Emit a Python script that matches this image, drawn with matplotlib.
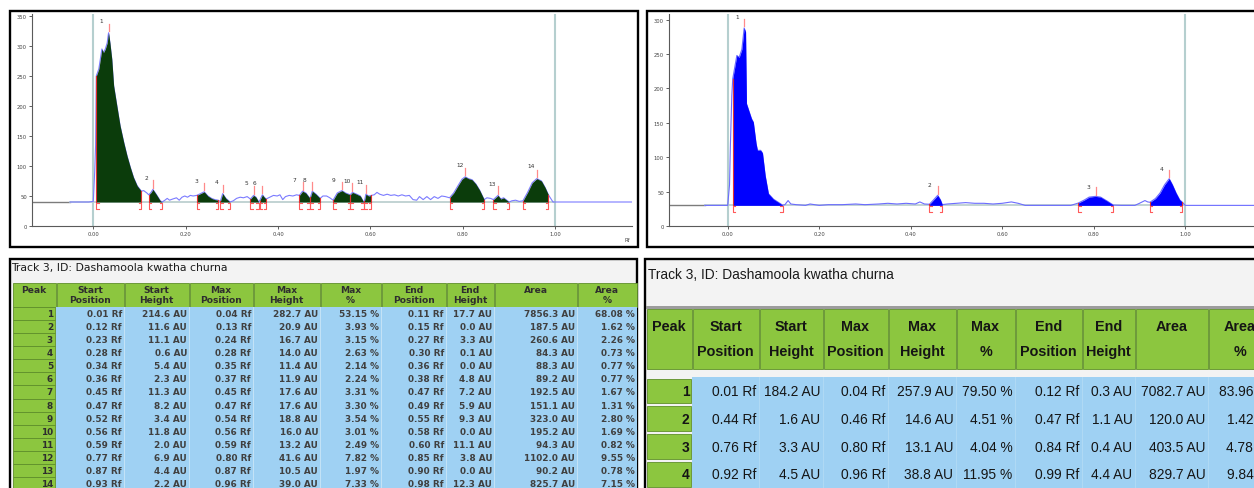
import numpy as np
import matplotlib
matplotlib.use("Agg")
import matplotlib.pyplot as plt
from matplotlib.patches import Rectangle

W, H = 1254, 489

# ---------------- data: densitogram A (green, 14 peaks) ----------------
rf_a = [-0.050, -0.010, 0.000, 0.003, 0.005, 0.0065, 0.012, 0.0186, 0.022, 0.026, 0.030, 0.033, 0.036,
        0.040, 0.044, 0.051, 0.058, 0.066, 0.073, 0.080, 0.087, 0.095, 0.104, 0.109, 0.116, 0.120, 0.125,
        0.129, 0.136, 0.145, 0.149, 0.155, 0.160, 0.165, 0.172, 0.180, 0.186, 0.192, 0.198, 0.204, 0.210,
        0.216, 0.224, 0.232, 0.240, 0.248, 0.256, 0.263, 0.270, 0.275, 0.280, 0.287, 0.296, 0.303, 0.310,
        0.318, 0.325, 0.333, 0.340, 0.347, 0.352, 0.358, 0.360, 0.366, 0.370, 0.374, 0.382, 0.390, 0.398,
        0.404, 0.410, 0.416, 0.424, 0.432, 0.440, 0.446, 0.453, 0.460, 0.468, 0.470, 0.474, 0.482, 0.491,
        0.497, 0.505, 0.512, 0.519, 0.528, 0.538, 0.546, 0.556, 0.561, 0.570, 0.578, 0.585, 0.587, 0.590,
        0.596, 0.602, 0.608, 0.614, 0.620, 0.628, 0.636, 0.644, 0.652, 0.660, 0.668, 0.676, 0.684, 0.692,
        0.700, 0.706, 0.714, 0.722, 0.730, 0.738, 0.746, 0.754, 0.762, 0.771, 0.780, 0.790, 0.798, 0.805,
        0.812, 0.820, 0.828, 0.836, 0.846, 0.852, 0.860, 0.866, 0.876, 0.882, 0.888, 0.900, 0.906, 0.914,
        0.922, 0.930, 0.940, 0.950, 0.960, 0.970, 0.978, 0.985, 0.990, 0.995, 1.166]
au_a = [40, 40, 41, 90, 134, 250, 262, 295, 289, 295, 305, 322, 305,
        278, 234, 200, 167, 139, 117, 98, 81, 67, 58, 59, 55, 52, 56,
        61, 53, 42, 40, 43, 46, 43, 45, 47, 43, 48, 50, 48, 51,
        50, 51, 54, 57, 50, 46, 44, 43, 41, 54, 46, 40, 42, 46,
        48, 47, 49, 45, 51, 48, 40, 42, 52, 48, 45, 48, 51, 50,
        52, 44, 49, 51, 50, 52, 51, 58, 55, 47, 48, 58, 53, 46,
        50, 50, 47, 43, 55, 59, 55, 52, 56, 53, 50, 40, 42, 53,
        50, 51, 52, 56, 53, 51, 53, 51, 52, 50, 52, 50, 51, 44,
        43, 49, 44, 49, 44, 49, 46, 50, 49, 47, 55, 68, 78, 82,
        79, 77, 70, 60, 44, 47, 46, 44, 51, 45, 47, 40, 42, 43,
        41, 42, 56, 72, 79, 75, 64, 52, 46, 40, 40]
base_a = 40
start_a = [0.0065, 0.120, 0.224, 0.275, 0.340, 0.360, 0.446, 0.470, 0.519, 0.556, 0.587, 0.771, 0.866, 0.930]
max_a = [0.033, 0.129, 0.240, 0.280, 0.347, 0.366, 0.453, 0.474, 0.538, 0.561, 0.590, 0.805, 0.876, 0.960]
end_a = [0.104, 0.149, 0.270, 0.296, 0.358, 0.374, 0.468, 0.491, 0.556, 0.585, 0.602, 0.846, 0.900, 0.985]
lab_rf_a = [0.017, 0.114, 0.224, 0.266, 0.331, 0.349, 0.436, 0.457, 0.520, 0.549, 0.578, 0.793, 0.863, 0.947]
lab_au_a = [343, 80, 76, 75, 73, 73, 78, 78, 78, 76, 74, 102, 71, 100]

# ---------------- data: densitogram B (blue, 4 peaks) ----------------
rf_b = [-0.050, 0.000, 0.004, 0.006, 0.009, 0.011, 0.016, 0.020, 0.025, 0.028, 0.031, 0.036, 0.039, 0.041,
        0.052, 0.056, 0.062, 0.065, 0.072, 0.076, 0.082, 0.089, 0.100, 0.114, 0.120, 0.125, 0.132, 0.138,
        0.150, 0.170, 0.180, 0.190, 0.200, 0.220, 0.250, 0.280, 0.300, 0.330, 0.350, 0.370, 0.390, 0.410,
        0.420, 0.430, 0.441, 0.450, 0.459, 0.465, 0.469, 0.480, 0.500, 0.520, 0.540, 0.560, 0.580, 0.600,
        0.620, 0.635, 0.650, 0.700, 0.750, 0.766, 0.780, 0.790, 0.804, 0.815, 0.830, 0.843, 0.860, 0.890,
        0.900, 0.912, 0.918, 0.923, 0.935, 0.945, 0.955, 0.965, 0.972, 0.980, 0.988, 0.994, 1.000, 1.183]
au_b = [30, 30, 60, 120, 190, 214, 233, 248, 245, 251, 257, 288, 282, 178,
        156, 151, 120, 110, 110, 106, 73, 47, 39, 33, 30.3, 31, 37, 32,
        31, 30, 32, 31, 30, 31, 31, 32, 31, 32, 33, 32, 33, 32,
        35, 32, 31.6, 38, 44.6, 38, 31.1, 32, 33, 34, 33, 33, 32, 33,
        35, 33, 30, 30, 30, 33.3, 38, 42, 43.1, 42, 36, 30.4, 30, 30,
        33, 37, 35, 34.5, 40, 48, 60, 68.8, 60, 48, 38, 34.4, 30, 30]
base_b = 30
start_b = [0.011, 0.441, 0.766, 0.923]
max_b = [0.036, 0.459, 0.804, 0.965]
end_b = [0.120, 0.469, 0.843, 0.994]
lab_rf_b = [0.020, 0.442, 0.788, 0.949]
lab_au_b = [305, 61, 58, 84]

# ---------------- table data ----------------
title_text = "Track 3, ID: Dashamoola kwatha churna"
headers = ["Peak", "Start\nPosition", "Start\nHeight", "Max\nPosition", "Max\nHeight", "Max\n%",
           "End\nPosition", "End\nHeight", "Area", "Area\n%"]

t1_peak = list(range(1, 15))
t1_start_pos = [0.01, 0.12, 0.23, 0.28, 0.34, 0.36, 0.45, 0.47, 0.52, 0.56, 0.59, 0.77, 0.87, 0.93]
t1_start_h = [214.6, 11.6, 11.1, 0.6, 5.4, 2.3, 11.3, 8.2, 3.4, 11.8, 2.0, 6.9, 4.4, 2.2]
t1_max_pos = [0.04, 0.13, 0.24, 0.28, 0.35, 0.37, 0.45, 0.47, 0.54, 0.56, 0.59, 0.80, 0.87, 0.96]
t1_max_h = [282.7, 20.9, 16.7, 14.0, 11.4, 11.9, 17.6, 17.6, 18.8, 16.0, 13.2, 41.6, 10.5, 39.0]
t1_max_pct = [53.15, 3.93, 3.15, 2.63, 2.14, 2.24, 3.31, 3.30, 3.54, 3.01, 2.49, 7.82, 1.97, 7.33]
t1_end_pos = [0.11, 0.15, 0.27, 0.30, 0.36, 0.38, 0.47, 0.49, 0.55, 0.58, 0.60, 0.85, 0.90, 0.98]
t1_end_h = [17.7, 0.0, 3.3, 0.1, 0.0, 4.8, 7.2, 5.9, 9.3, 0.0, 11.1, 3.8, 0.0, 12.3]
t1_area = [7856.3, 187.5, 260.6, 84.3, 88.3, 89.2, 192.5, 151.1, 323.0, 195.2, 94.3, 1102.0, 90.2, 825.7]
t1_area_pct = [68.08, 1.62, 2.26, 0.73, 0.77, 0.77, 1.67, 1.31, 2.80, 1.69, 0.82, 9.55, 0.78, 7.15]

t2_peak = [1, 2, 3, 4]
t2_start_pos = [0.01, 0.44, 0.76, 0.92]
t2_start_h = [184.2, 1.6, 3.3, 4.5]
t2_max_pos = [0.04, 0.46, 0.80, 0.96]
t2_max_h = [257.9, 14.6, 13.1, 38.8]
t2_max_pct = [79.50, 4.51, 4.04, 11.95]
t2_end_pos = [0.12, 0.47, 0.84, 0.99]
t2_end_h = [0.3, 1.1, 0.4, 4.4]
t2_area = [7082.7, 120.0, 403.5, 829.7]
t2_area_pct = [83.96, 1.42, 4.78, 9.84]

# ---------------- figure ----------------
fig = plt.figure(figsize=(W / 100, H / 100), dpi=100)
fig.patch.set_facecolor("white")


def frect(x0, y0, x1, y1):
    return [x0 / W, 1 - y1 / H, (x1 - x0) / W, (y1 - y0) / H]


ov = fig.add_axes([0, 0, 1, 1], zorder=0)
ov.set_xlim(0, W)
ov.set_ylim(H, 0)
ov.axis("off")

# panel frames
for (x0, y0, x1, y1, fc) in [(10, 12, 638, 248, "white"), (647, 12, 1275, 248, "white"),
                             (10, 260, 637, 500, "#f3f3f3"), (645, 260, 1275, 500, "#f3f3f3")]:
    ov.add_patch(Rectangle((x0, y0), x1 - x0, y1 - y0, facecolor=fc, edgecolor="black", lw=1.7))


def draw_chart(ax, rf, au, base, starts, maxs, ends, lab_rf, lab_au, fill_c, line_c,
               xlim, ylim, yticks, ppu, ppr, rf_label=True):
    rf = np.asarray(rf, float)
    au = np.asarray(au, float)
    ax.set_xlim(*xlim)
    ax.set_ylim(*ylim)
    ax.patch.set_alpha(0)
    for s in ("top", "right"):
        ax.spines[s].set_visible(False)
    for s in ("left", "bottom"):
        ax.spines[s].set_color("#5a5a5a")
        ax.spines[s].set_linewidth(0.8)
    ax.set_yticks(yticks)
    ax.set_xticks([0.0, 0.2, 0.4, 0.6, 0.8, 1.0])
    ax.set_xticklabels(["%.2f" % v for v in [0.0, 0.2, 0.4, 0.6, 0.8, 1.0]])
    ax.tick_params(labelsize=3.8, length=2.2, width=0.6, colors="#444444", pad=1.5)
    # Rf 0 / 1 guide lines
    for v in (0.0, 1.0):
        ax.plot([v, v], [0, ylim[1]], color="#b5cfcf", lw=1.5, zorder=1, solid_capstyle="butt")
    # baselines
    ax.plot([xlim[0], -0.05], [base, base], color="#7c7c7c", lw=1.0, zorder=2)
    ax.plot([-0.05, 1.0], [base, base], color="#b8cccc", lw=1.2, zorder=2)
    # trace
    ax.plot(rf, au, color=line_c, lw=0.8, zorder=3)
    dy = 7.0 / ppu
    dx = 2.5 / ppr
    for s, m, e in zip(starts, maxs, ends):
        mask = (rf >= s - 1e-9) & (rf <= e + 1e-9)
        ax.fill_between(rf, base, au, where=mask, color=fill_c, lw=0, zorder=4)
        hs = au[np.argmin(np.abs(rf - s))]
        he = au[np.argmin(np.abs(rf - e))]
        hm = au[np.argmin(np.abs(rf - m))]
        ax.plot([s, s], [base, hs], color="#e03030", lw=0.8, zorder=5)
        ax.plot([e, e], [base, he], color="#e03030", lw=0.8, zorder=5)
        ax.plot([s + dx, s, s, s + dx], [base - 1 / ppu, base - 1 / ppu, base - dy, base - dy],
                color="#ff5a5a", lw=0.8, zorder=5)
        ax.plot([e - dx, e, e, e - dx], [base - 1 / ppu, base - 1 / ppu, base - dy, base - dy],
                color="#ff5a5a", lw=0.8, zorder=5)
        ax.plot([m, m], [hm + 1.5 / ppu, hm + 9 / ppu], color="#ff8a8a", lw=0.9, zorder=5)
    for i, (x, y) in enumerate(zip(lab_rf, lab_au)):
        ax.text(x, y, str(i + 1), fontsize=4.2, color="#333333", ha="center", va="center", zorder=6)
    if rf_label:
        ax.text(1.156, -13 / ppu, "Rf", fontsize=3.8, color="#444444", ha="center", va="center",
                clip_on=False)


ppr_a, ppu_a = 462.0, 0.6
ax1 = fig.add_axes(frect(32, 15, 632, 227), zorder=2)
draw_chart(ax1, rf_a, au_a, base_a, start_a, max_a, end_a, lab_rf_a, lab_au_a,
           "#0b3c0b", "#7b7bff", ((32 - 93.3) / ppr_a, (632 - 93.3) / ppr_a), (0, 212 / ppu_a),
           [0, 50, 100, 150, 200, 250, 300, 350], ppu_a, ppr_a)

ppr_b, ppu_b = 457.5, 0.6877
ax2 = fig.add_axes(frect(669, 15, 1269, 227), zorder=2)
draw_chart(ax2, rf_b, au_b, base_b, start_b, max_b, end_b, lab_rf_b, lab_au_b,
           "#0000ff", "#6b6bff", ((669 - 727.7) / ppr_b, (1269 - 727.7) / ppr_b), (0, 212 / ppu_b),
           [0, 50, 100, 150, 200, 250, 300], ppu_b, ppr_b, rf_label=False)


# ---------------- tables ----------------
def rows_of(peak, sp, sh, mp, mh, mpct, ep, eh, ar, apct):
    out = []
    for i in range(len(peak)):
        out.append([str(peak[i]), "%.2f Rf" % sp[i], "%.1f AU" % sh[i], "%.2f Rf" % mp[i],
                    "%.1f AU" % mh[i], "%.2f %%" % mpct[i], "%.2f Rf" % ep[i], "%.1f AU" % eh[i],
                    "%.1f AU" % ar[i], "%.2f %%" % apct[i]])
    return out


GREEN = "#8cc63f"
GREEN_EDGE = "#5f8f2a"
BLUE = "#9fd1f3"


def draw_table(xe, hdr_top, hdr_bot, hdr_lines_y, row_top, row_h, rows, font, hsize, dsize,
               dcolor, hcolor, title_xy, title_size, title_font, bottom=500, sep_color=None,
               text_inset=2.5, peak_inset=2.5, cell_gap=0.0, data_weight="normal"):
    tx, ty = title_xy
    ov.text(tx, ty, title_text, fontsize=title_size, family=title_font, color="#1a1a1a",
            ha="left", va="center")
    # header
    for j in range(len(xe) - 1):
        ov.add_patch(Rectangle((xe[j] + 0.5, hdr_top), xe[j + 1] - xe[j] - 1, hdr_bot - hdr_top,
                               facecolor=GREEN, edgecolor=GREEN_EDGE, lw=0.6))
        lines = headers[j].split("\n")
        cx = (xe[j] + xe[j + 1]) / 2
        for k, ln in enumerate(lines):
            ov.text(cx, hdr_lines_y[k], ln, fontsize=hsize, family=font, fontweight="bold",
                    color=hcolor, ha="center", va="center")
    # blue data area
    ov.add_patch(Rectangle((xe[1], row_top), xe[-1] - xe[1], bottom - row_top, facecolor=BLUE,
                           edgecolor="none"))
    if sep_color:
        for j in range(2, len(xe) - 1):
            ov.plot([xe[j], xe[j]], [row_top, bottom], color=sep_color, lw=0.7)
    for i, row in enumerate(rows):
        cy = row_top + row_h * (i + 0.5)
        ov.add_patch(Rectangle((xe[0] + 0.5, row_top + row_h * i + cell_gap / 2), xe[1] - xe[0] - 1.5,
                               row_h - cell_gap, facecolor=GREEN, edgecolor=GREEN_EDGE, lw=0.6))
        ov.text(xe[1] - peak_inset, cy, row[0], fontsize=dsize, family=font, fontweight="bold",
                color=hcolor, ha="right", va="center")
        for j in range(1, len(row)):
            ov.text(xe[j + 1] - text_inset, cy, row[j], fontsize=dsize, family=font,
                    fontweight=data_weight, color=dcolor, ha="right", va="center", clip_on=True)


rows1 = rows_of(t1_peak, t1_start_pos, t1_start_h, t1_max_pos, t1_max_h, t1_max_pct,
                t1_end_pos, t1_end_h, t1_area, t1_area_pct)
rows2 = rows_of(t2_peak, t2_start_pos, t2_start_h, t2_max_pos, t2_max_h, t2_max_pct,
                t2_end_pos, t2_end_h, t2_area, t2_area_pct)

x1e = [12, 56, 124, 189, 253, 320, 381, 446, 494, 577, 637]
draw_table(x1e, 284, 308, [290.5, 300.5], 307.8, 13.1, rows1, "DejaVu Sans", 6.6, 6.4,
           "#404040", "#2e2e2e", (11, 268), 7.8, "DejaVu Sans", sep_color="#c5e3f7",
           text_inset=2.0, peak_inset=3.0, data_weight="bold")

x2e = [646, 692, 759, 823, 888, 956, 1015, 1082, 1135, 1208, 1272]
ov.add_patch(Rectangle((646, 306.5), 630, 3.5, facecolor="#9c9c9c", edgecolor="none"))
draw_table(x2e, 310, 370, [326.7, 351.7], 378.0, 27.8, rows2, "Liberation Sans", 10.4, 9.9,
           "#151515", "#151515", (648, 275), 9.9, "Liberation Sans", sep_color="#b0daf5",
           text_inset=2.5, peak_inset=2.5, cell_gap=3.0)

fig.savefig("out.png", dpi=100)
